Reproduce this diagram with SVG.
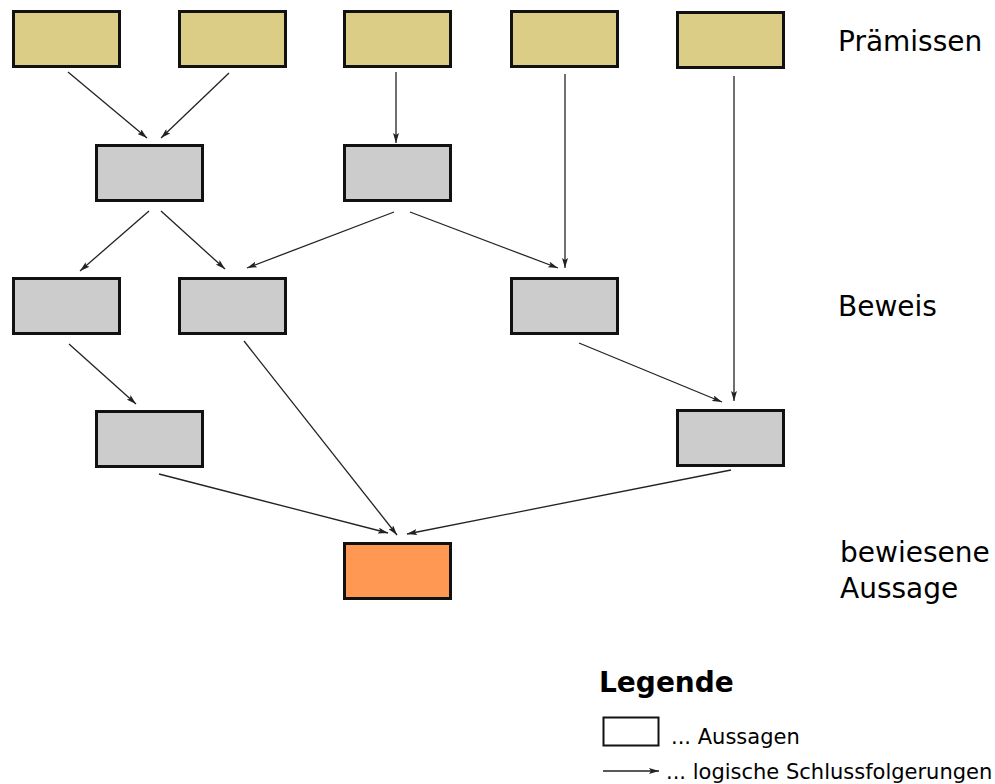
<svg xmlns="http://www.w3.org/2000/svg" width="995" height="784" viewBox="0 0 995 784">
<style>
.box{stroke:#111;stroke-width:3}
.p{fill:#dccd86}
.g{fill:#cccccc}
.o{fill:#fe9852}
.e{stroke:#222;stroke-width:1.3;fill:none;marker-end:url(#ah)}
text{font-family:"DejaVu Sans","Liberation Sans",sans-serif;fill:#000}
.lab{font-size:28px}
</style>
<defs>
<marker id="ah" viewBox="0 0 10 6" refX="10" refY="3" markerWidth="10" markerHeight="6" markerUnits="userSpaceOnUse" orient="auto">
<path d="M0,0 L10,3 L0,6 L2,3 Z" fill="#222"/>
</marker>
</defs>
<rect width="995" height="784" fill="#fff"/>
<g id="edges">
<line class="e" x1="68" y1="72" x2="147" y2="138"/>
<line class="e" x1="229" y1="73" x2="161" y2="138"/>
<line class="e" x1="396" y1="72" x2="396" y2="143"/>
<line class="e" x1="565" y1="74" x2="565" y2="268"/>
<line class="e" x1="734" y1="76" x2="734" y2="401"/>
<line class="e" x1="149" y1="211" x2="80" y2="271"/>
<line class="e" x1="161" y1="211" x2="225" y2="269"/>
<line class="e" x1="394" y1="212" x2="247" y2="268"/>
<line class="e" x1="410" y1="212" x2="558" y2="268"/>
<line class="e" x1="69" y1="344" x2="136" y2="404"/>
<line class="e" x1="244" y1="341" x2="397" y2="535"/>
<line class="e" x1="579" y1="343" x2="722" y2="402"/>
<line class="e" x1="159" y1="474" x2="388" y2="533"/>
<line class="e" x1="731" y1="470" x2="407" y2="534"/>
</g>
<g id="n1"><rect class="box p" x="13.5" y="11.5" width="106" height="55"/></g>
<g id="n2"><rect class="box p" x="179.5" y="11.5" width="106" height="55"/></g>
<g id="n3"><rect class="box p" x="344.5" y="11.5" width="106" height="55"/></g>
<g id="n4"><rect class="box p" x="511.5" y="11.5" width="106" height="55"/></g>
<g id="n5"><rect class="box p" x="677.5" y="12.5" width="106" height="55"/></g>
<g id="n6"><rect class="box g" x="96.5" y="145.5" width="106" height="55"/></g>
<g id="n7"><rect class="box g" x="344.5" y="145.5" width="106" height="55"/></g>
<g id="n8"><rect class="box g" x="13.5" y="278.5" width="106" height="55"/></g>
<g id="n9"><rect class="box g" x="179.5" y="278.5" width="106" height="55"/></g>
<g id="n10"><rect class="box g" x="511.5" y="278.5" width="106" height="55"/></g>
<g id="n11"><rect class="box g" x="96.5" y="411.5" width="106" height="55"/></g>
<g id="n12"><rect class="box g" x="677.5" y="410.5" width="106" height="55"/></g>
<g id="n13"><rect class="box o" x="344.5" y="543.5" width="106" height="55"/></g>
<g id="labels">
<text class="lab" x="838" y="51">Prämissen</text>
<text class="lab" x="838" y="316">Beweis</text>
<text class="lab" x="840" y="562">bewiesene</text>
<text class="lab" x="840" y="598">Aussage</text>
</g>
<g id="legend">
<text x="599" y="692" font-size="28" font-weight="bold">Legende</text>
<rect x="603.5" y="717.5" width="55" height="28" fill="#fff" stroke="#111" stroke-width="2"/>
<text x="671" y="744" font-size="21">... Aussagen</text>
<line class="e" x1="603" y1="771" x2="659" y2="771"/>
<text x="666" y="779" font-size="21">... logische Schlussfolgerungen</text>
</g>
</svg>
